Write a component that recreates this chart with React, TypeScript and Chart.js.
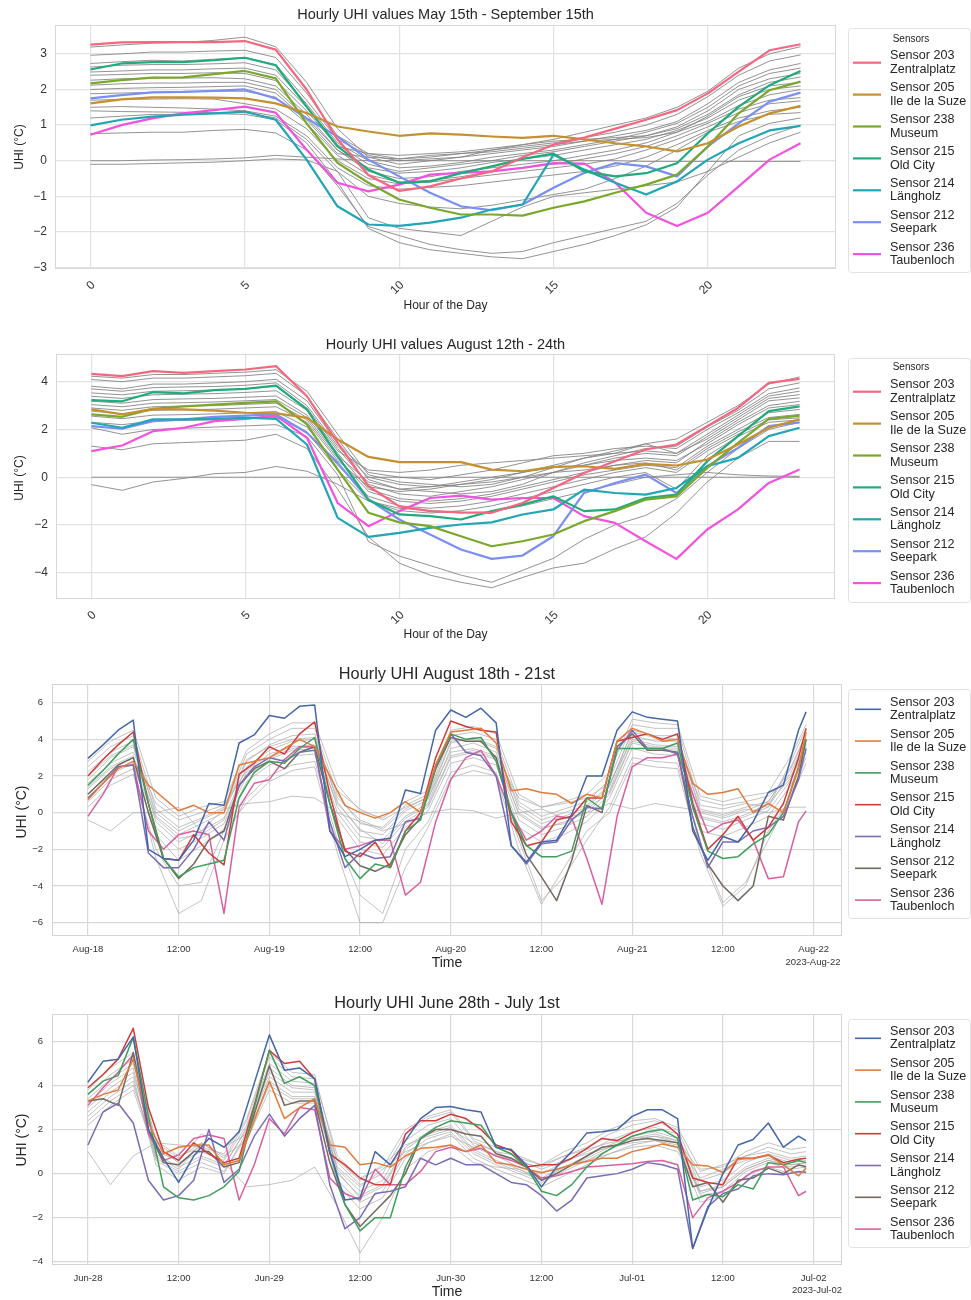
import React, { useEffect, useRef } from 'react';
import { Chart, registerables } from 'chart.js';

Chart.register(...registerables);

const FONT = "'Liberation Sans', Arial, Helvetica, sans-serif";
const TEXT = '#262626';

const SENSOR_NAMES = ['Sensor 203', 'Sensor 205', 'Sensor 238', 'Sensor 215', 'Sensor 214', 'Sensor 212', 'Sensor 236'];
const SENSOR_PLACES = ['Zentralplatz', 'Ile de la Suze', 'Museum', 'Old City', 'Längholz', 'Seepark', 'Taubenloch'];
const HUSL_COLORS = ['#f5667f', '#c49030', '#7aa82c', '#1fab7c', '#20a6b4', '#7b8ff2', '#f352df'];
const DEEP_COLORS = ['#4466aa', '#e07b3c', '#3f9e5c', '#d23a3a', '#7d6bb5', '#75685e', '#d9609f'];

// ---------- hour axes ----------
const DAY_HOURS = [0, 1, 2, 3, 4, 5, 6, 7, 8, 9, 10, 11, 12, 13, 14, 15, 16, 17, 18, 19, 20, 21, 22, 23];
const DAY_TICKS = [0, 5, 10, 15, 20];
const DAY_TICK_LABELS = ['0', '5', '10', '15', '20'];

const RUN_HOURS = [0, 2, 4, 6, 8, 10, 12, 14, 16, 18, 20, 22, 24, 26, 28, 30, 32, 34, 36, 38, 40, 42, 44, 46,
  48, 50, 52, 54, 56, 58, 60, 62, 64, 66, 68, 70, 72, 74, 76, 78, 80, 82, 84, 86, 88, 90, 92, 94, 95];
const RUN_GREY_HOURS = [0, 3, 6, 9, 12, 15, 18, 21, 24, 27, 30, 33, 36, 39, 42, 45, 48, 51, 54, 57, 60, 63, 66, 69,
  72, 75, 78, 81, 84, 87, 90, 93, 95];
const RUN_TICKS = [0, 12, 24, 36, 48, 60, 72, 84, 96];
const AUG_TICK_LABELS = ['Aug-18', '12:00', 'Aug-19', '12:00', 'Aug-20', '12:00', 'Aug-21', '12:00', 'Aug-22'];
const JUN_TICK_LABELS = ['Jun-28', '12:00', 'Jun-29', '12:00', 'Jun-30', '12:00', 'Jul-01', '12:00', 'Jul-02'];

// ---------- Panel 1: May 15th - September 15th (mean per hour) ----------
const SEASON_203 = [3.26, 3.32, 3.33, 3.33, 3.33, 3.36, 3.12, 2.0, 0.6, -0.4, -0.85, -0.72, -0.5, -0.3, 0.1, 0.45, 0.65, 0.9, 1.15, 1.42, 1.89, 2.5, 3.1, 3.27];
const SEASON_205 = [1.61, 1.72, 1.78, 1.78, 1.77, 1.75, 1.61, 1.34, 0.96, 0.82, 0.7, 0.77, 0.73, 0.68, 0.64, 0.7, 0.6, 0.49, 0.4, 0.26, 0.49, 0.96, 1.33, 1.54];
const SEASON_238 = [2.17, 2.26, 2.33, 2.34, 2.43, 2.52, 2.31, 1.05, -0.06, -0.62, -1.09, -1.32, -1.51, -1.51, -1.54, -1.32, -1.14, -0.9, -0.67, -0.39, 0.4, 1.33, 1.98, 2.22];
const SEASON_215 = [2.56, 2.73, 2.77, 2.77, 2.82, 2.89, 2.68, 1.52, 0.4, -0.25, -0.62, -0.58, -0.35, -0.16, 0.05, 0.2, -0.3, -0.44, -0.35, -0.07, 0.77, 1.52, 2.12, 2.52];
const SEASON_214 = [0.99, 1.15, 1.24, 1.29, 1.33, 1.38, 1.15, 0.03, -1.28, -1.79, -1.83, -1.74, -1.6, -1.37, -1.23, 0.17, -0.25, -0.62, -0.95, -0.58, 0.03, 0.49, 0.85, 0.98];
const SEASON_212 = [1.75, 1.84, 1.92, 1.93, 1.96, 2.0, 1.75, 1.19, 0.68, 0.03, -0.44, -0.9, -1.28, -1.39, -1.23, -0.76, -0.34, -0.07, -0.16, -0.44, 0.4, 1.05, 1.66, 1.91];
const SEASON_236 = [0.73, 1.0, 1.19, 1.33, 1.42, 1.52, 1.35, 0.31, -0.62, -0.86, -0.67, -0.39, -0.34, -0.3, -0.2, -0.07, -0.08, -0.62, -1.46, -1.83, -1.46, -0.72, 0.03, 0.49];
const SEASON_OTHER_SENSORS = [
  [3.19, 3.25, 3.3, 3.32, 3.38, 3.47, 3.2, 2.2, 0.9, 0.1, -0.1, 0.0, 0.1, 0.3, 0.45, 0.6, 0.8, 1.0, 1.2, 1.5, 1.95, 2.6, 3.0, 3.2],
  [2.96, 3.0, 3.05, 3.05, 3.08, 3.1, 2.9, 1.9, 0.7, 0.2, 0.05, 0.1, 0.2, 0.3, 0.4, 0.5, 0.65, 0.8, 1.0, 1.3, 1.8, 2.4, 2.8, 2.97],
  [2.73, 2.78, 2.82, 2.8, 2.85, 2.9, 2.7, 1.7, 0.6, 0.15, 0.0, 0.05, 0.1, 0.2, 0.3, 0.4, 0.55, 0.7, 0.85, 1.1, 1.6, 2.2, 2.55, 2.73],
  [2.63, 2.68, 2.7, 2.7, 2.72, 2.75, 2.55, 1.6, 0.5, 0.0, -0.2, -0.15, -0.05, 0.1, 0.2, 0.3, 0.45, 0.6, 0.8, 1.05, 1.5, 2.1, 2.45, 2.6],
  [2.49, 2.52, 2.55, 2.55, 2.58, 2.6, 2.4, 1.5, 0.45, -0.1, -0.3, -0.2, -0.1, 0.0, 0.15, 0.25, 0.4, 0.55, 0.7, 0.95, 1.4, 2.0, 2.3, 2.45],
  [2.4, 2.42, 2.45, 2.45, 2.47, 2.45, 2.25, 1.4, 0.4, 0.2, 0.15, 0.2, 0.25, 0.35, 0.45, 0.55, 0.6, 0.65, 0.7, 0.9, 1.3, 1.85, 2.2, 2.35],
  [2.26, 2.3, 2.32, 2.32, 2.33, 2.3, 2.1, 1.3, 0.3, -0.3, -0.5, -0.45, -0.3, -0.2, -0.1, 0.0, 0.15, 0.3, 0.5, 0.8, 1.25, 1.8, 2.1, 2.2],
  [2.12, 2.16, 2.18, 2.18, 2.2, 2.2, 2.0, 1.2, 0.3, -0.2, -0.35, -0.3, -0.2, -0.05, 0.05, 0.15, 0.3, 0.45, 0.6, 0.85, 1.2, 1.7, 2.0, 2.1],
  [2.0, 2.03, 2.05, 2.06, 2.08, 2.1, 1.9, 1.15, 0.2, 0.1, 0.05, 0.15, 0.2, 0.25, 0.35, 0.45, 0.55, 0.6, 0.65, 0.8, 1.1, 1.55, 1.85, 2.0],
  [1.88, 1.9, 1.92, 1.93, 1.95, 1.95, 1.78, 1.05, 0.15, -0.4, -0.6, -0.55, -0.45, -0.3, -0.2, -0.1, 0.05, 0.2, 0.4, 0.7, 1.05, 1.45, 1.7, 1.77],
  [1.7, 1.72, 1.73, 1.74, 1.73, 1.6, 1.45, 0.9, 0.0, -0.5, -0.65, -0.6, -0.5, -0.4, -0.3, -0.2, -0.1, 0.05, 0.3, 0.6, 0.95, 1.35, 1.6, 1.68],
  [1.5, 1.52, 1.5, 1.48, 1.45, 1.4, 1.25, 0.7, -0.2, -0.7, -0.8, -0.75, -0.7, -0.6, -0.5, -0.4, -0.3, -0.15, 0.1, 0.45, 0.85, 1.2, 1.4, 1.5],
  [1.4, 1.38, 1.37, 1.36, 1.35, 1.35, 1.2, 0.6, -0.3, -1.0, -1.2, -1.3, -1.35, -1.25, -1.1, -0.95, -0.8, -0.5, -0.15, 0.3, 0.8, 1.1, 1.3, 1.35],
  [1.2, 1.25, 1.3, 1.3, 1.32, 1.3, 1.15, 0.5, -0.6, -1.9, -2.3, -2.5, -2.6, -2.7, -2.75, -2.55, -2.35, -2.1, -1.8, -1.3, -0.3, 0.7, 1.05, 1.2],
  [0.76, 0.78, 0.8, 0.8, 0.85, 0.88, 0.78, 0.3, -0.7, -1.85, -2.1, -2.35, -2.5, -2.6, -2.55, -2.3, -2.1, -1.9, -1.7, -1.2, -0.4, 0.3, 0.7, 1.0],
  [0.0, 0.0, 0.02, 0.03, 0.05, 0.08, 0.15, 0.1, 0.05, 0.0, 0.0, 0.0, 0.0, 0.0, 0.0, 0.0, 0.0, 0.0, -0.02, -0.02, -0.02, -0.02, -0.02, -0.02],
  [-0.1, -0.1, -0.08, -0.06, -0.04, 0.0, 0.05, 0.02, -0.3, -1.6, -1.9, -2.0, -2.1, -1.7, -1.3, -1.0, -0.9, -0.8, -0.7, -0.6, -0.3, 0.1, 0.5, 0.8],
];

// ---------- Panel 2: August 12th - 24th (mean per hour) ----------
const HEAT_203 = [4.33, 4.23, 4.44, 4.37, 4.44, 4.51, 4.65, 3.39, 1.44, -0.38, -1.22, -1.42, -1.47, -1.49, -1.08, -0.45, 0.18, 0.67, 1.16, 1.37, 2.14, 2.9, 3.95, 4.12];
const HEAT_205 = [2.84, 2.63, 2.86, 2.84, 2.79, 2.7, 2.67, 2.49, 1.58, 0.85, 0.63, 0.63, 0.63, 0.32, 0.25, 0.43, 0.46, 0.35, 0.56, 0.49, 0.74, 1.37, 2.07, 2.42];
const HEAT_238 = [2.63, 2.53, 2.86, 2.97, 3.04, 3.11, 3.18, 2.21, 0.32, -1.49, -1.89, -2.05, -2.47, -2.89, -2.68, -2.4, -1.84, -1.42, -0.94, -0.8, 0.39, 1.44, 2.44, 2.58];
const HEAT_215 = [3.23, 3.18, 3.56, 3.51, 3.65, 3.7, 3.84, 2.84, 0.88, -0.94, -1.56, -1.63, -1.77, -1.42, -1.15, -0.8, -1.42, -1.35, -0.87, -0.73, 0.67, 1.72, 2.77, 2.97];
const HEAT_214 = [2.28, 2.07, 2.42, 2.42, 2.44, 2.49, 2.44, 1.37, -1.7, -2.5, -2.33, -2.12, -1.98, -1.89, -1.56, -1.35, -0.52, -0.66, -0.73, -0.45, 0.46, 0.81, 1.72, 2.07];
const HEAT_212 = [2.14, 2.03, 2.35, 2.42, 2.53, 2.58, 2.63, 1.86, 0.6, -0.94, -1.77, -2.4, -3.03, -3.42, -3.28, -2.47, -0.66, -0.24, 0.11, -0.66, 0.46, 1.23, 2.14, 2.3];
const HEAT_236 = [1.09, 1.33, 1.93, 2.07, 2.35, 2.44, 2.58, 1.65, -1.08, -2.05, -1.42, -0.87, -0.77, -0.94, -0.87, -0.87, -1.63, -1.91, -2.68, -3.42, -2.19, -1.35, -0.24, 0.32];
const HEAT_OTHER_SENSORS = [
  [4.23, 4.15, 4.3, 4.3, 4.35, 4.4, 4.5, 3.6, 1.8, 0.1, -0.2, -0.3, -0.4, -0.3, 0.0, 0.4, 0.8, 1.1, 1.4, 1.6, 2.3, 3.0, 3.9, 4.2],
  [4.09, 4.0, 4.15, 4.15, 4.2, 4.25, 4.35, 3.4, 1.6, -0.1, -0.5, -0.6, -0.7, -0.6, -0.3, 0.2, 0.6, 0.9, 1.2, 1.3, 2.1, 2.8, 3.7, 3.95],
  [3.81, 3.7, 3.9, 3.9, 3.95, 4.0, 4.1, 3.2, 1.4, 0.2, 0.0, -0.1, 0.1, 0.3, 0.6, 0.9, 1.0, 1.2, 1.3, 1.2, 2.0, 2.7, 3.5, 3.74],
  [3.7, 3.6, 3.75, 3.78, 3.8, 3.85, 3.95, 3.0, 1.3, 0.0, -0.3, -0.4, -0.3, -0.1, 0.2, 0.5, 0.8, 1.0, 1.4, 1.0, 1.8, 2.6, 3.4, 3.6],
  [3.53, 3.45, 3.6, 3.62, 3.65, 3.7, 3.8, 2.9, 1.2, -0.3, -0.7, -0.8, -0.6, -0.4, -0.1, 0.2, 0.5, 0.8, 1.0, 0.9, 1.7, 2.5, 3.3, 3.46],
  [3.39, 3.3, 3.45, 3.48, 3.5, 3.55, 3.62, 2.8, 1.1, 0.3, 0.2, 0.3, 0.5, 0.6, 0.7, 0.8, 0.9, 1.0, 1.1, 1.0, 1.6, 2.4, 3.2, 3.32],
  [3.18, 3.1, 3.25, 3.28, 3.3, 3.35, 3.4, 2.6, 1.0, -0.5, -0.9, -1.0, -0.9, -0.7, -0.4, -0.1, 0.2, 0.5, 0.7, 0.6, 1.5, 2.3, 3.0, 3.18],
  [3.04, 2.95, 3.1, 3.12, 3.15, 3.2, 3.25, 2.5, 0.9, -0.2, -0.5, -0.4, -0.2, 0.0, 0.2, 0.4, 0.5, 0.7, 0.8, 0.7, 1.4, 2.2, 2.9, 3.04],
  [2.9, 2.8, 2.95, 2.98, 3.0, 3.05, 3.1, 2.4, 0.8, -0.6, -1.0, -1.1, -1.0, -0.8, -0.5, -0.2, 0.1, 0.3, 0.5, 0.4, 1.3, 2.0, 2.7, 2.84],
  [2.77, 2.65, 2.8, 2.82, 2.85, 2.9, 2.95, 2.3, 0.7, -0.4, -0.6, -0.5, -0.3, -0.2, 0.0, 0.2, 0.3, 0.5, 0.6, 0.3, 1.2, 1.9, 2.5, 2.63],
  [2.56, 2.45, 2.6, 2.62, 2.65, 2.7, 2.75, 2.1, 0.5, -0.8, -1.2, -1.3, -1.2, -1.0, -0.7, -0.4, -0.1, 0.2, 0.4, 0.2, 1.1, 1.8, 2.4, 2.49],
  [2.3, 2.2, 2.35, 2.38, 2.4, 2.45, 2.5, 1.9, 0.3, -1.0, -1.4, -1.5, -1.4, -1.2, -0.9, -0.6, -0.3, 0.0, 0.2, -0.5, 0.9, 1.7, 2.3, 2.4],
  [2.07, 1.8, 2.0, 2.05, 2.1, 2.15, 2.2, 1.7, 0.1, -2.7, -3.3, -3.7, -4.1, -4.4, -3.9, -3.4, -2.6, -2.0, -1.6, -0.9, 0.2, 1.2, 2.0, 2.3],
  [1.3, 1.15, 1.4, 1.45, 1.5, 1.55, 1.8, 1.2, -0.5, -2.5, -3.6, -4.1, -4.4, -4.63, -4.2, -3.8, -3.6, -3.0, -2.5, -1.5, -0.2, 0.8, 1.5, 1.5],
  [0.0, 0.0, 0.0, 0.0, 0.0, 0.0, 0.0, 0.0, 0.0, 0.0, 0.0, 0.0, 0.0, 0.0, 0.0, 0.0, 0.0, 0.0, 0.0, 0.0, 0.0, 0.0, 0.0, 0.0],
  [-0.31, -0.55, -0.2, -0.05, 0.15, 0.2, 0.45, 0.25, -0.3, -1.0, -1.3, -1.4, -1.5, -1.45, -1.2, -0.9, -0.6, -0.3, 0.0, 0.1, 0.2, 0.1, 0.05, 0.04],
];

// ---------- Panel 3: August 18th - 21st (hours since Aug-18 00:00) ----------
const AUG_203 = [2.96, 3.7, 4.5, 5.05, -2.0, -2.5, -2.6, -1.5, 0.5, 0.4, 3.8, 4.24, 5.3, 5.15, 5.8, 5.87, -1.0, -2.4, -2.0, -1.5, -1.4, 1.24, 1.05, 4.5,
  5.6, 5.2, 5.7, 4.9, -1.8, -2.7, -1.6, -1.5, -0.1, 2.0, 2.0, 4.5, 5.5, 5.2, 5.1, 5.0, -1.0, -2.6, -1.3, -1.6, -0.5, 1.1, 1.5, 4.5, 5.5];
const AUG_205 = [0.7, 1.6, 2.4, 2.8, 1.5, 0.8, 0.1, 0.4, 0.0, 0.0, 2.6, 2.8, 3.0, 3.5, 4.0, 3.6, 2.0, 0.4, 0.0, -0.3, 0.0, 0.6, 0.0, 2.6,
  4.4, 4.5, 4.6, 3.8, 1.2, 1.3, 1.1, 1.0, 0.5, 1.0, 0.8, 3.9, 4.6, 4.3, 3.9, 4.0, 1.6, 1.0, 1.1, 1.3, 0.0, 0.5, 0.0, 2.4, 4.4];
const AUG_238 = [1.5, 2.3, 3.2, 4.0, 0.5, -2.5, -3.5, -3.0, -2.8, -2.6, 0.8, 2.2, 2.8, 2.7, 3.5, 4.1, 0.5, -2.5, -3.6, -2.8, -3.0, -1.0, -0.4, 2.5,
  4.3, 4.0, 4.1, 2.8, 0.0, -1.8, -2.4, -2.4, -2.1, 0.8, 0.2, 3.5, 3.5, 3.5, 3.5, 3.8, 0.3, -2.1, -2.5, -2.4, -1.7, -1.2, 0.0, 2.5, 4.0];
const AUG_215 = [2.0, 2.9, 3.7, 4.4, 0.5, -2.5, -2.6, -1.2, -2.2, -2.85, 2.1, 2.7, 3.6, 3.2, 4.3, 4.95, 1.0, -2.1, -2.4, -1.6, -3.0, -1.0, 0.0, 3.0,
  5.0, 4.7, 4.5, 4.4, -0.5, -1.8, -1.6, -0.4, -0.2, 0.8, 0.8, 3.9, 4.1, 4.3, 4.0, 4.3, 0.5, -2.0, -1.2, -0.2, -1.5, -0.8, 0.5, 3.0, 4.6];
const AUG_214 = [0.8, 1.6, 2.5, 2.6, -2.2, -3.0, -3.0, -2.0, -0.5, -1.5, 1.5, 2.5, 3.0, 2.8, 3.3, 3.4, -0.5, -3.0, -2.2, -2.5, -2.4, -0.5, -0.3, 2.6,
  4.3, 3.3, 3.1, 2.0, -1.8, -2.8, -1.7, -1.6, -0.4, 0.3, 0.2, 3.4, 4.5, 3.5, 3.5, 3.2, -0.2, -3.0, -1.6, -1.6, -1.0, -0.8, -0.2, 1.8, 3.5];
const AUG_212 = [1.0, 1.8, 2.6, 3.0, 0.0, -2.5, -3.6, -2.8, -1.5, -1.0, 1.5, 2.4, 2.8, 2.4, 3.3, 3.6, 0.5, -2.0, -2.9, -3.2, -2.8, -1.2, -0.3, 2.4,
  4.1, 3.9, 3.9, 3.0, 0.0, -2.3, -3.5, -4.8, -2.6, 0.4, 0.0, 3.6, 4.3, 3.4, 3.4, 3.3, -0.8, -2.8, -4.0, -4.8, -4.0, -0.2, -0.4, 2.0, 4.0];
const AUG_236 = [-0.2, 1.0, 2.5, 2.6, -1.0, -2.0, -1.2, -1.0, -1.2, -5.5, 0.3, 1.6, 1.8, 2.9, 3.6, 3.6, -1.0, -2.0, -1.8, -1.5, -1.5, -4.5, -3.8, -0.5,
  1.8, 3.0, 3.4, 2.0, 0.0, -1.5, -1.0, -0.2, -0.3, -2.5, -5.0, -0.2, 2.5, 3.0, 3.0, 3.2, 1.0, -1.1, -0.6, -0.4, -1.5, -3.6, -3.5, -0.5, 0.1];
const AUG_OTHER_SENSORS = [
  [2.5, 3.6, 4.2, 0.2, -0.8, -0.3, 0.3, 3.2, 4.0, 4.6, 4.6, 1.0, -0.6, -0.8, 0.4, 1.0, 4.2, 4.4, 4.0, 0.6, -0.2, 0.2, 0.6, 1.8, 4.8, 4.6, 4.6, 0.4, 0.2, 0.5, 0.3, 2.8, 4.6],
  [2.2, 3.3, 3.9, -0.2, -1.2, -0.6, 0.0, 2.8, 3.7, 4.2, 4.3, 0.6, -1.0, -1.2, 0.1, 0.7, 3.8, 4.1, 3.6, 0.2, -0.6, -0.2, 0.3, 1.4, 4.5, 4.2, 4.2, 0.0, -0.3, 0.1, 0.6, 2.5, 4.3],
  [1.8, 3.0, 3.6, -0.5, -1.6, -1.0, -0.3, 2.5, 3.4, 3.9, 4.0, 0.3, -1.3, -1.5, -0.2, 0.5, 3.5, 3.8, 3.3, -0.1, -0.9, -0.5, 0.0, 1.2, 4.2, 3.9, 3.9, -0.3, -0.6, -0.2, 0.3, 2.2, 4.0],
  [1.6, 2.7, 3.3, 0.5, -0.4, 0.0, 0.4, 2.3, 3.2, 3.6, 3.7, 1.2, 0.2, -0.4, 0.3, 0.8, 3.3, 3.5, 3.1, 0.8, 0.3, 0.5, 0.8, 1.6, 4.0, 3.7, 3.6, 0.7, 0.4, 0.6, 0.9, 2.0, 3.8],
  [1.3, 2.4, 3.0, -0.8, -2.0, -1.4, -0.6, 2.0, 2.9, 3.4, 3.5, 0.0, -1.6, -1.9, -0.5, 0.3, 3.0, 3.3, 2.9, -0.4, -1.2, -0.8, -0.2, 1.0, 3.8, 3.5, 3.4, -0.6, -0.9, -0.4, 0.1, 1.8, 3.6],
  [2.0, 3.1, 3.7, 0.0, -1.0, -0.4, 0.2, 2.9, 3.6, 4.0, 4.1, 0.8, -0.4, -0.9, 0.2, 0.9, 3.9, 4.0, 3.5, 0.4, -0.4, 0.0, 0.4, 1.5, 4.4, 4.1, 4.0, 0.2, -0.1, 0.3, 0.6, 2.4, 4.2],
  [1.0, 2.1, 2.7, -1.2, -2.6, -1.8, -0.9, 1.7, 2.6, 3.1, 3.2, -0.3, -2.0, -2.3, -0.8, 0.1, 2.7, 3.0, 2.6, -0.8, -1.6, -1.2, -0.5, 0.8, 3.5, 3.2, 3.1, -1.0, -1.3, -0.8, -0.2, 1.5, 3.3],
  [0.6, 1.8, 2.4, -2.5, -5.5, -4.8, -1.5, 0.8, 2.0, 2.6, 2.8, -1.5, -4.5, -5.5, -2.0, -0.5, 2.2, 2.6, 2.2, -1.5, -4.8, -3.5, -1.5, 0.3, 3.0, 2.8, 2.7, -1.8, -4.9, -3.8, -1.5, 1.0, 3.0],
  [0.3, 1.5, 2.1, -2.0, -4.0, -3.8, -1.0, 0.5, 1.7, 2.3, 2.5, -2.2, -6.0, -6.0, -3.0, -0.8, 1.9, 2.3, 2.0, -2.0, -5.0, -3.0, -1.0, 0.0, 2.7, 2.5, 2.4, -2.2, -5.1, -4.0, -1.0, 0.8, 2.7],
  [-0.4, -1.0, 0.0, 0.0, 0.3, -1.0, 0.2, 0.5, 0.6, 0.9, 0.8, 0.0, -0.5, -1.0, -0.6, 0.0, 0.2, 0.1, -0.3, 0.0, 0.2, -0.3, 0.0, 0.5, 0.2, 0.5, 0.3, 0.1, -0.2, 0.2, 0.0, 0.3, 0.3],
  [2.8, 3.9, 4.5, 0.8, -0.2, 0.3, 0.6, 3.4, 4.3, 4.9, 4.9, 1.5, 0.1, -0.3, 0.6, 1.2, 4.5, 4.7, 4.3, 1.0, 0.3, 0.6, 1.0, 2.2, 5.1, 4.9, 4.8, 0.9, 0.6, 0.9, 1.1, 3.1, 4.8],
  [1.4, 2.5, 3.1, -0.3, -1.4, -1.2, -0.4, 2.2, 3.0, 3.5, 3.6, 0.5, -0.9, -1.7, -0.3, 0.4, 3.1, 3.4, 3.0, 0.0, -0.8, -0.6, 0.2, 1.1, 3.9, 3.6, 3.5, -0.2, -0.5, -0.1, 0.5, 1.9, 3.7],
];

// ---------- Panel 4: June 28th - July 1st (hours since Jun-28 00:00) ----------
const JUN_203 = [4.15, 5.1, 5.2, 6.2, 2.0, 0.7, -0.4, 0.8, 1.6, 1.2, 1.9, 4.1, 6.3, 4.7, 4.8, 4.3, 1.0, -1.2, -1.1, 1.0, 0.4, 1.5, 2.5, 3.0,
  3.05, 2.9, 2.8, 1.2, 1.1, 0.4, -0.6, 0.3, 1.0, 1.85, 1.9, 2.0, 2.6, 2.9, 2.9, 2.5, -3.4, -1.6, 0.0, 1.3, 1.55, 2.3, 1.2, 1.7, 1.5];
const JUN_205 = [3.3, 3.6, 3.8, 5.2, 2.3, 0.9, 1.2, 1.3, 1.3, 0.4, 0.6, 2.4, 4.2, 2.5, 3.0, 3.4, 1.3, 1.2, 0.4, 0.5, 0.3, 0.8, 1.15, 1.2,
  1.3, 1.0, 1.3, 0.5, 0.4, 0.2, 0.05, 0.2, 0.4, 0.55, 0.7, 0.7, 1.0, 1.15, 1.35, 1.2, 0.4, 0.35, 0.05, 0.65, 0.7, 0.85, 0.4, -0.1, 0.25];
const JUN_238 = [3.6, 4.2, 4.45, 6.2, 2.6, -0.6, -1.1, -1.2, -1.0, -0.6, 0.1, 3.0, 5.6, 4.1, 4.4, 4.0, 1.0, -1.4, -2.6, -2.0, -2.0, 0.3, 1.6, 2.1,
  2.4, 2.3, 2.2, 1.2, 0.9, 0.3, -0.8, -1.0, -0.5, 0.3, 0.9, 1.3, 1.7, 1.9, 2.0, 1.6, -1.2, -0.95, -1.05, -0.5, -0.7, 0.5, 0.4, 0.6, 0.5];
const JUN_215 = [3.9, 4.5, 5.2, 6.6, 3.0, 1.0, 0.6, 1.4, 0.9, 0.5, 0.7, 3.1, 5.6, 5.0, 5.1, 4.3, 0.9, 0.4, -0.2, -0.5, -0.5, 1.8, 2.4, 2.4,
  2.7, 2.5, 2.0, 1.3, 1.05, 0.3, 0.4, 0.4, 0.7, 1.15, 1.6, 1.5, 1.85, 2.1, 2.35, 1.8, -0.2, -0.4, -0.5, 0.7, 0.7, 0.85, 0.5, 0.65, 0.7];
const JUN_214 = [1.3, 2.8, 3.2, 2.3, -0.3, -1.2, -1.0, -0.3, 2.0, -0.4, 0.2, 1.7, 2.7, 1.7, 2.5, 3.1, -0.5, -2.5, -2.0, -0.9, -0.8, -0.6, 0.7, 0.4,
  0.7, 0.4, 0.4, 0.0, -0.4, -0.5, -1.0, -1.7, -1.2, -0.2, -0.1, 0.0, 0.2, 0.5, 0.4, 0.2, -3.4, -1.5, -0.9, -0.7, -0.1, 0.0, -0.05, 0.1, 0.05];
const JUN_212 = [3.3, 3.4, 3.1, 5.5, 2.0, 0.5, 0.4, 1.0, 1.0, 0.3, 0.5, 2.7, 4.9, 3.1, 3.3, 3.3, 0.5, -1.4, -2.4, -1.7, -1.0, 0.0, 1.6, 2.0,
  2.0, 1.8, 1.7, 0.9, 0.7, 0.3, -0.3, 0.0, 0.4, 0.8, 1.2, 1.3, 1.5, 1.6, 1.5, 1.4, -0.6, -0.4, -1.3, -0.3, -0.2, 0.25, 0.0, 0.4, 0.3];
const JUN_236 = [3.1, 3.9, 4.6, 5.4, 1.8, 0.6, 0.85, 1.6, 1.75, 1.6, -1.2, 0.4, 2.5, 1.8, 3.0, 2.9, -0.2, -0.9, -1.2, 0.2, -0.5, -0.5, 0.1, 1.0,
  1.2, 1.0, 1.15, 0.8, 0.6, 0.3, -0.2, -0.1, 0.1, 0.3, 0.35, 0.4, 0.45, 0.55, 0.6, 0.4, -2.0, -1.1, -0.8, -0.4, 0.1, 0.3, 0.3, -1.0, -0.8];
const JUN_OTHER_SENSORS = [
  [3.8, 4.8, 5.5, 1.5, 0.8, 1.2, 0.9, 2.5, 5.5, 4.6, 4.5, 0.5, -0.5, 0.0, 1.8, 2.5, 2.8, 1.5, 1.0, 0.5, 0.3, 0.8, 1.2, 1.8, 2.2, 2.4, 2.0, -0.3, 0.0, 0.8, 1.2, 0.9, 1.0],
  [3.4, 4.3, 5.0, 1.2, 0.5, 1.0, 0.6, 2.2, 5.0, 4.2, 4.1, 0.2, -0.8, -0.3, 1.5, 2.2, 2.5, 1.3, 0.8, 0.3, 0.0, 0.5, 1.0, 1.5, 1.9, 2.1, 1.8, -0.6, -0.3, 0.5, 0.9, 0.6, 0.7],
  [3.0, 3.9, 4.6, 0.9, 0.3, 0.8, 0.4, 2.0, 4.6, 3.9, 3.8, 0.0, -1.0, -0.5, 1.2, 1.9, 2.2, 1.1, 0.6, 0.2, -0.2, 0.3, 0.8, 1.3, 1.7, 1.9, 1.6, -0.8, -0.5, 0.3, 0.7, 0.4, 0.5],
  [2.6, 3.5, 4.2, 0.6, 0.0, 0.5, 0.1, 1.7, 4.2, 3.5, 3.5, -0.3, -1.3, -0.8, 0.9, 1.6, 1.9, 0.9, 0.4, 0.0, -0.4, 0.1, 0.6, 1.1, 1.5, 1.7, 1.4, -1.0, -0.8, 0.1, 0.5, 0.2, 0.3],
  [2.2, 3.1, 3.8, 0.8, 0.2, 1.4, 0.8, 1.5, 3.8, 3.2, 3.2, 0.3, -0.6, 0.2, 1.0, 1.4, 1.7, 1.2, 0.8, 0.6, 0.2, 0.6, 0.9, 1.2, 1.4, 1.5, 1.3, -0.2, 0.2, 0.6, 0.8, 0.5, 0.6],
  [1.0, -0.5, 0.8, 1.4, 1.3, 1.2, 0.5, -0.6, -0.5, -0.3, 0.3, -1.5, -3.6, -2.0, 0.2, 1.0, 1.3, 0.5, 0.3, 0.2, -0.3, 0.3, 0.6, 0.9, 1.2, 1.3, 1.0, -0.8, -0.6, 0.2, 0.6, 0.4, 0.5],
  [3.6, 4.5, 5.2, 1.4, 0.7, 1.4, 0.7, 2.4, 5.3, 4.4, 4.3, 0.8, -0.2, 0.3, 2.0, 2.6, 2.9, 1.6, 1.2, 0.7, 0.4, 1.0, 1.4, 2.0, 2.4, 2.5, 2.1, 0.2, 0.3, 1.0, 1.4, 1.1, 1.2],
  [2.8, 3.7, 4.4, 0.4, -0.3, 0.3, 0.0, 1.9, 4.4, 3.7, 3.7, -0.5, -1.6, -1.1, 0.7, 1.4, 1.8, 0.7, 0.2, -0.2, -0.6, -0.1, 0.4, 0.9, 1.3, 1.5, 1.2, -1.3, -1.0, -0.1, 0.3, 0.0, 0.1],
  [2.4, 3.3, 4.0, 1.0, 0.6, 1.8, 1.2, 1.8, 4.0, 3.4, 3.4, 0.6, -0.3, 0.4, 1.3, 1.7, 2.0, 1.4, 1.0, 0.8, 0.4, 0.8, 1.1, 1.4, 1.6, 1.7, 1.5, 0.1, 0.4, 0.8, 1.0, 0.7, 0.8],
  [3.2, 4.1, 4.8, 0.7, 0.1, 0.7, 0.3, 2.1, 4.8, 4.0, 3.9, 0.1, -1.1, -0.6, 1.1, 1.8, 2.1, 1.0, 0.5, 0.1, -0.3, 0.2, 0.7, 1.2, 1.6, 1.8, 1.5, -0.9, -0.6, 0.2, 0.6, 0.3, 0.4],
];

// ---------- helpers ----------
function lineSet(xs: number[], ys: number[], color: string, width: number, order: number, label: string) {
  return {
    label,
    data: ys.map((y, i) => ({ x: xs[i], y })),
    borderColor: color,
    backgroundColor: color,
    borderWidth: width,
    pointRadius: 0,
    pointHoverRadius: 0,
    fill: false,
    tension: 0,
    borderJoinStyle: 'round',
    order,
  };
}

function roundRect(ctx: CanvasRenderingContext2D, x: number, y: number, w: number, h: number, r: number) {
  ctx.beginPath();
  ctx.moveTo(x + r, y);
  ctx.lineTo(x + w - r, y);
  ctx.quadraticCurveTo(x + w, y, x + w, y + r);
  ctx.lineTo(x + w, y + h - r);
  ctx.quadraticCurveTo(x + w, y + h, x + w - r, y + h);
  ctx.lineTo(x + r, y + h);
  ctx.quadraticCurveTo(x, y + h, x, y + h - r);
  ctx.lineTo(x, y + r);
  ctx.quadraticCurveTo(x, y, x + r, y);
  ctx.closePath();
}

function makeDecor(cfg: any) {
  return {
    id: 'decor',
    beforeDraw(chart: any) {
      const ctx = chart.ctx;
      ctx.save();
      ctx.fillStyle = '#ffffff';
      ctx.fillRect(0, 0, chart.width, chart.height);
      ctx.restore();
    },
    beforeDatasetsDraw(chart: any) {
      const ctx = chart.ctx;
      const a = chart.chartArea;
      ctx.save();
      ctx.strokeStyle = cfg.frameColor;
      ctx.lineWidth = 1;
      ctx.strokeRect(Math.round(a.left) + 0.5, Math.round(a.top) + 0.5, Math.round(a.right - a.left) - 1, Math.round(a.bottom - a.top) - 1);
      ctx.restore();
    },
    afterDraw(chart: any) {
      const ctx = chart.ctx;
      const a = chart.chartArea;
      ctx.save();
      ctx.fillStyle = TEXT;
      ctx.textAlign = 'center';
      ctx.textBaseline = 'middle';
      ctx.font = `${cfg.titleSize}px ${FONT}`;
      ctx.fillText(cfg.title, (a.left + a.right) / 2, cfg.titleY);
      ctx.font = `${cfg.xTitleSize}px ${FONT}`;
      ctx.fillText(cfg.xTitle, (a.left + a.right) / 2, cfg.xTitleY);
      ctx.save();
      ctx.translate(cfg.yTitleX, cfg.yTitleY);
      ctx.rotate(-Math.PI / 2);
      ctx.font = `${cfg.yTitleSize}px ${FONT}`;
      ctx.fillText(cfg.yTitle, 0, 0);
      ctx.restore();
      if (cfg.offsetText) {
        ctx.font = `${cfg.xFont}px ${FONT}`;
        ctx.fillStyle = '#333333';
        ctx.fillText(cfg.offsetText, cfg.offsetX, cfg.offsetY);
      }
      // legend
      const lg = cfg.legend;
      roundRect(ctx, lg.x + 0.5, lg.y + 0.5, lg.w, lg.h, 3);
      ctx.fillStyle = 'rgba(255,255,255,0.92)';
      ctx.fill();
      ctx.strokeStyle = '#e2e2e2';
      ctx.lineWidth = 1;
      ctx.stroke();
      if (lg.title) {
        ctx.fillStyle = TEXT;
        ctx.font = `10px ${FONT}`;
        ctx.textAlign = 'center';
        ctx.fillText(lg.title, lg.titleX, lg.titleY);
      }
      ctx.textAlign = 'left';
      ctx.font = `${lg.fontSize}px ${FONT}`;
      for (let i = 0; i < SENSOR_NAMES.length; i++) {
        const y = lg.firstY + i * lg.step;
        ctx.strokeStyle = cfg.colors[i];
        ctx.lineWidth = lg.lineWidth;
        ctx.beginPath();
        ctx.moveTo(lg.lineX1, y);
        ctx.lineTo(lg.lineX2, y);
        ctx.stroke();
        ctx.fillStyle = TEXT;
        ctx.fillText(SENSOR_NAMES[i], lg.textX, y - 6.7);
        ctx.fillText(SENSOR_PLACES[i], lg.textX, y + 6.7);
      }
      ctx.restore();
    },
  };
}

const YW = 40;

function Panel({ cfg }: { cfg: any }) {
  const ref = useRef<HTMLCanvasElement>(null);
  useEffect(() => {
    const canvas = ref.current;
    if (!canvas) return;
    const XH = cfg.xAxisHeight;
    const chart = new Chart(canvas, {
      type: 'line',
      data: { datasets: cfg.datasets },
      options: {
        responsive: false,
        maintainAspectRatio: false,
        animation: false,
        devicePixelRatio: 1,
        events: [],
        layout: {
          padding: {
            left: cfg.area.left - YW,
            top: cfg.area.top,
            right: 971 - cfg.area.right,
            bottom: cfg.height - cfg.area.bottom - XH,
          },
        },
        plugins: {
          legend: { display: false },
          tooltip: { enabled: false },
          title: { display: false },
        },
        scales: {
          x: {
            type: 'linear',
            min: cfg.xMin,
            max: cfg.xMax,
            afterBuildTicks: (s: any) => {
              s.ticks = cfg.xTicks.map((v: number) => ({ value: v }));
            },
            afterFit: (s: any) => {
              s.height = XH;
            },
            grid: { color: cfg.gridColor, lineWidth: cfg.gridWidth, drawTicks: false },
            border: { display: false },
            ticks: {
              autoSkip: false,
              minRotation: cfg.xRot,
              maxRotation: cfg.xRot,
              labelOffset: cfg.xLabelOffset,
              padding: cfg.xPad,
              color: '#333333',
              font: { family: FONT, size: cfg.xFont },
              callback: (_v: any, i: number) => cfg.xLabels[i],
            },
          },
          y: {
            type: 'linear',
            min: cfg.yMin,
            max: cfg.yMax,
            afterBuildTicks: (s: any) => {
              s.ticks = cfg.yTicks.map((v: number) => ({ value: v }));
            },
            afterFit: (s: any) => {
              s.width = YW;
            },
            grid: { color: cfg.gridColor, lineWidth: cfg.gridWidth, drawTicks: false },
            border: { display: false },
            ticks: {
              padding: cfg.yPad,
              color: '#333333',
              font: { family: FONT, size: cfg.yFont },
              callback: (v: any) => (v < 0 ? '\u2212' + Math.abs(v) : String(v)),
            },
          },
        },
      } as any,
      plugins: [makeDecor(cfg)],
    });
    return () => chart.destroy();
  }, []);
  return (
    <canvas
      ref={ref}
      width={971}
      height={cfg.height}
      style={{ position: 'absolute', left: 0, top: cfg.top, width: 971, height: cfg.height, display: 'block' }}
    />
  );
}

function buildSets(xs: number[], main: number[][], greyXs: number[], greys: number[][], colors: string[], mainW: number, greyColor: string, greyW: number) {
  const sets: any[] = [];
  main.forEach((ys, i) => sets.push(lineSet(xs, ys, colors[i], mainW, 1, SENSOR_NAMES[i] + ' ' + SENSOR_PLACES[i])));
  greys.forEach((ys, i) => sets.push(lineSet(greyXs, ys, greyColor, greyW, 2, 'other ' + i)));
  return sets;
}

export default function App() {
  const season = [SEASON_203, SEASON_205, SEASON_238, SEASON_215, SEASON_214, SEASON_212, SEASON_236];
  const heat = [HEAT_203, HEAT_205, HEAT_238, HEAT_215, HEAT_214, HEAT_212, HEAT_236];
  const aug = [AUG_203, AUG_205, AUG_238, AUG_215, AUG_214, AUG_212, AUG_236];
  const jun = [JUN_203, JUN_205, JUN_238, JUN_215, JUN_214, JUN_212, JUN_236];

  const hourPanel = {
    xMin: -1.15, xMax: 24.15, xTicks: DAY_TICKS, xLabels: DAY_TICK_LABELS, xRot: 45, xFont: 12, xPad: 9, xLabelOffset: 3,
    yFont: 12, yPad: 8, gridColor: '#e2e2e2', gridWidth: 1.2, frameColor: '#d8d8d8',
    titleSize: 14.5, xTitle: 'Hour of the Day', xTitleSize: 12, yTitle: 'UHI (°C)', yTitleSize: 12, yTitleX: 20,
    xAxisHeight: 40, colors: HUSL_COLORS,
  };
  const runPanel = {
    xMin: -4.75, xMax: 99.75, xTicks: RUN_TICKS, xRot: 0, xFont: 9.5, xPad: 8, xLabelOffset: 0,
    yFont: 9.5, yPad: 9, gridColor: '#d9d9d9', gridWidth: 1.2, frameColor: '#d4d4d4',
    titleSize: 16.3, xTitle: 'Time', xTitleSize: 14, yTitle: 'UHI (°C)', yTitleSize: 14, yTitleX: 22,
    xAxisHeight: 30, colors: DEEP_COLORS,
  };

  const p1 = {
    ...hourPanel, top: 0, height: 325, area: { left: 55, top: 25, right: 836, bottom: 269 },
    yMin: -3.04, yMax: 3.81, yTicks: [-3, -2, -1, 0, 1, 2, 3],
    title: 'Hourly UHI values May 15th - September 15th', titleY: 15, xTitleY: 306, yTitleY: 147,
    legend: { x: 848, y: 28, w: 122, h: 244, title: 'Sensors', titleX: 911, titleY: 39, firstY: 62.7, step: 31.9, lineX1: 853, lineX2: 881, textX: 890, fontSize: 12.6, lineWidth: 2.2 },
    datasets: buildSets(DAY_HOURS, season, DAY_HOURS, SEASON_OTHER_SENSORS, HUSL_COLORS, 2.2, 'rgba(128,128,128,0.85)', 1),
  };
  const p2 = {
    ...hourPanel, top: 330, height: 325, area: { left: 56, top: 24, right: 835, bottom: 269 },
    yMin: -5.1, yMax: 5.16, yTicks: [-4, -2, 0, 2, 4],
    title: 'Hourly UHI values August 12th - 24th', titleY: 15, xTitleY: 305, yTitleY: 148,
    legend: { x: 848, y: 28, w: 122, h: 244, title: 'Sensors', titleX: 911, titleY: 37.7, firstY: 61.7, step: 31.9, lineX1: 853, lineX2: 881, textX: 890, fontSize: 12.6, lineWidth: 2.2 },
    datasets: buildSets(DAY_HOURS, heat, DAY_HOURS, HEAT_OTHER_SENSORS, HUSL_COLORS, 2.2, 'rgba(128,128,128,0.85)', 1),
  };
  const p3 = {
    ...runPanel, top: 655, height: 325, area: { left: 52, top: 29, right: 842, bottom: 281 },
    xLabels: AUG_TICK_LABELS, yMin: -6.73, yMax: 7.02, yTicks: [-6, -4, -2, 0, 2, 4, 6],
    title: 'Hourly UHI August 18th - 21st', titleY: 20, xTitleY: 308, yTitleY: 157,
    offsetText: '2023-Aug-22', offsetX: 813, offsetY: 307,
    legend: { x: 848, y: 34, w: 122, h: 229, title: '', titleX: 0, titleY: 0, firstY: 54.3, step: 31.8, lineX1: 855, lineX2: 881, textX: 890, fontSize: 12.6, lineWidth: 1.6 },
    datasets: buildSets(RUN_HOURS, aug, RUN_GREY_HOURS, AUG_OTHER_SENSORS, DEEP_COLORS, 1.5, 'rgba(170,170,170,0.7)', 1),
  };
  const p4 = {
    ...runPanel, top: 985, height: 315, area: { left: 52, top: 29, right: 842, bottom: 280 },
    xLabels: JUN_TICK_LABELS, yMin: -4.15, yMax: 7.25, yTicks: [-4, -2, 0, 2, 4, 6],
    title: 'Hourly UHI June 28th - July 1st', titleY: 19, xTitleY: 307, yTitleY: 155,
    offsetText: '2023-Jul-02', offsetX: 817, offsetY: 305,
    legend: { x: 848, y: 34, w: 122, h: 228, title: '', titleX: 0, titleY: 0, firstY: 53.3, step: 31.8, lineX1: 855, lineX2: 881, textX: 890, fontSize: 12.6, lineWidth: 1.6 },
    datasets: buildSets(RUN_HOURS, jun, RUN_GREY_HOURS, JUN_OTHER_SENSORS, DEEP_COLORS, 1.5, 'rgba(170,170,170,0.7)', 1),
  };

  return (
    <div style={{ position: 'absolute', left: 0, top: 0, width: 971, height: 1300, background: '#ffffff', overflow: 'hidden' }}>
      <Panel cfg={p1} />
      <Panel cfg={p2} />
      <Panel cfg={p3} />
      <Panel cfg={p4} />
    </div>
  );
}
